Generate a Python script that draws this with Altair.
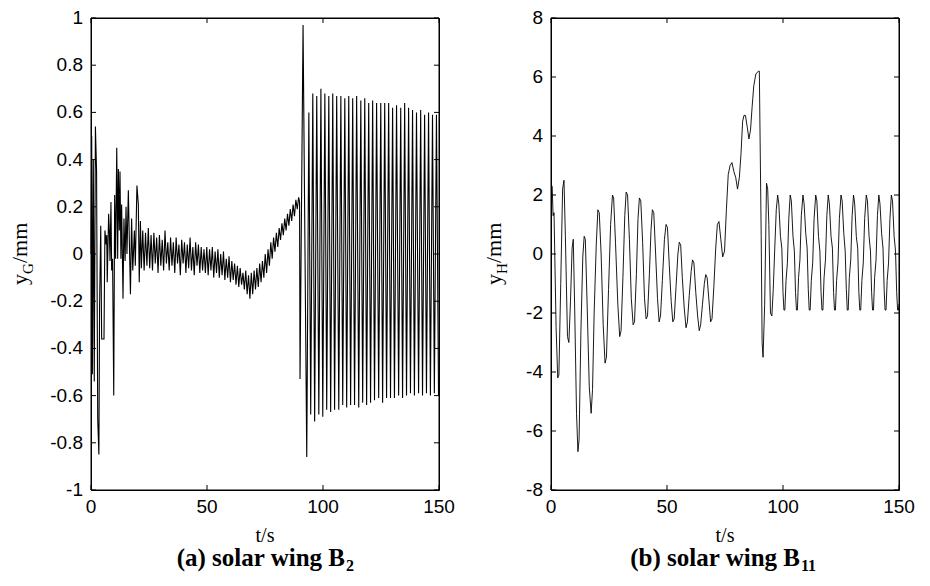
import altair as alt
import pandas as pd

# ---------------- left panel (a): y_G in mm ----------------
# irregular start-up part (t in s, y in mm)
tG_start = [0.0, 0.3, 0.6, 1.0, 1.4, 1.9, 2.4, 2.9, 3.4, 3.7, 4.2, 4.6, 5.6, 6.0, 6.5, 6.8, 7.0, 7.6, 7.9, 8.2,
            8.6, 8.9, 9.3, 9.8, 10.2, 10.6, 11.1, 11.5, 11.8, 12.2, 12.5, 12.9, 13.2, 13.8, 14.2, 14.7, 15.1, 15.5,
            16.1, 16.5, 17.0, 17.5, 18.0, 18.7, 19.1, 19.8, 20.4, 20.8, 21.3, 21.7]
yG_start = [0.0, 0.50, -0.51, 0.40, -0.54, 0.54, 0.35, -0.70, -0.85, -0.22, 0.12, -0.36, -0.36, 0.10, 0.04, 0.08,
            -0.12, 0.17, 0.10, -0.03, 0.22, -0.07, -0.02, -0.60, 0.25, -0.02, 0.45, -0.02, 0.36, 0.10, 0.35, -0.02,
            0.21, -0.19, 0.15, -0.03, 0.20, 0.00, 0.27, 0.07, -0.17, 0.15, -0.07, 0.10, -0.05, 0.29, 0.21, -0.12,
            0.14, -0.06]
# slow drift part with small ripple
tG_mid = [22.3, 22.9, 23.5, 24.1, 24.7, 25.3, 25.9, 26.5, 27.1, 27.7, 28.3, 28.9, 29.5, 30.1, 30.7, 31.3, 31.9,
          32.5, 33.1, 33.7, 34.3, 34.9, 35.5, 36.1, 36.7, 37.3, 37.9, 38.5, 39.1, 39.7, 40.3, 40.9, 41.5, 42.1,
          42.7, 43.3, 43.9, 44.5, 45.1, 45.7, 46.3, 46.9, 47.5, 48.1, 48.7, 49.3, 49.9, 50.5, 51.1, 51.7, 52.3,
          52.9, 53.5, 54.1, 54.7, 55.3, 55.9, 56.5, 57.1, 57.7, 58.3, 58.9, 59.5, 60.1, 60.7, 61.3, 61.9, 62.5,
          63.1, 63.7, 64.3, 64.9, 65.5, 66.1, 66.7, 67.3, 67.9, 68.5, 69.1, 69.7, 70.3, 70.9, 71.5, 72.1, 72.7,
          73.3, 73.9, 74.5, 75.1, 75.7, 76.3, 76.9, 77.5, 78.1, 78.7, 79.3, 79.9, 80.5, 81.1, 81.7, 82.3, 82.9,
          83.5, 84.1, 84.7, 85.3, 85.9, 86.5, 87.1, 87.7, 88.3, 88.9, 89.5, 89.9, 90.1, 91.4, 93.0]
yG_mid = [0.10, -0.07, 0.09, -0.05, 0.11, -0.06, 0.08, -0.07, 0.09, -0.04, 0.07, -0.08, 0.08, -0.05, 0.06, -0.07,
          0.10, -0.04, 0.05, -0.07, 0.07, -0.05, 0.05, -0.08, 0.07, -0.04, 0.04, -0.09, 0.06, -0.04, 0.05, -0.08,
          0.04, -0.06, 0.07, -0.07, 0.03, -0.09, 0.05, -0.05, 0.04, -0.08, 0.03, -0.07, 0.02, -0.08, 0.03, -0.09,
          0.02, -0.07, 0.03, -0.10, 0.01, -0.08, 0.02, -0.10, 0.00, -0.09, 0.01, -0.11, -0.02, -0.10, -0.01,
          -0.12, -0.03, -0.11, -0.04, -0.13, -0.05, -0.14, -0.06, -0.13, -0.08, -0.15, -0.07, -0.17, -0.09,
          -0.19, -0.08, -0.17, -0.07, -0.15, -0.06, -0.14, -0.04, -0.12, -0.03, -0.10, 0.00, -0.08, 0.02, -0.05,
          0.05, -0.02, 0.07, 0.01, 0.09, 0.03, 0.11, 0.06, 0.13, 0.08, 0.15, 0.10, 0.17, 0.12, 0.19, 0.14, 0.21,
          0.16, 0.23, 0.19, 0.24, 0.22, -0.53, 0.97, -0.86]
# large oscillation after ~92 s: peaks and troughs
tG_peaks = [93.9, 95.6, 97.3, 99.1, 100.8, 102.5, 104.2, 105.9, 107.7, 109.4, 111.1, 112.8, 114.5, 116.3, 118.0,
            119.7, 121.4, 123.1, 124.9, 126.6, 128.3, 130.0, 131.7, 133.5, 135.2, 136.9, 138.6, 140.3, 142.1,
            143.8, 145.5, 147.2, 148.9]
yG_peaks = [0.60, 0.68, 0.67, 0.70, 0.68, 0.67, 0.68, 0.67, 0.67, 0.66, 0.67, 0.66, 0.67, 0.65, 0.66, 0.64, 0.65,
            0.64, 0.64, 0.64, 0.64, 0.62, 0.63, 0.62, 0.64, 0.62, 0.61, 0.60, 0.61, 0.59, 0.60, 0.59, 0.59]
tG_troughs = [94.7, 96.4, 98.2, 99.9, 101.6, 103.3, 105.0, 106.8, 108.5, 110.2, 111.9, 113.6, 115.4, 117.1, 118.8,
              120.5, 122.2, 124.0, 125.7, 127.4, 129.1, 130.8, 132.6, 134.3, 136.0, 137.7, 139.4, 141.2, 142.9,
              144.6, 146.3, 148.0, 149.8]
yG_troughs = [-0.68, -0.71, -0.68, -0.69, -0.66, -0.67, -0.66, -0.66, -0.64, -0.65, -0.64, -0.64, -0.65, -0.63,
              -0.64, -0.63, -0.62, -0.61, -0.63, -0.61, -0.61, -0.61, -0.60, -0.61, -0.60, -0.59, -0.60, -0.59,
              -0.60, -0.59, -0.60, -0.59, -0.60]

# ---------------- right panel (b): y_H in mm ----------------
tH = [0.0, 0.5, 0.9, 1.3, 2.2, 2.9, 3.4, 4.2, 5.0, 5.6, 6.2, 7.1, 7.7, 8.4, 9.1, 9.6, 10.2, 11.0, 11.6, 12.1,
      12.9, 13.7, 14.3, 14.8, 15.6, 16.5, 17.3, 17.9, 18.6, 19.5, 20.2, 20.8, 21.6, 22.5, 23.3, 23.9, 24.8, 25.7,
      26.5, 27.0, 27.8, 28.8, 29.6, 30.2, 31.0, 31.8, 32.4, 33.0, 33.8, 34.6, 35.4, 36.0, 36.8, 37.5, 38.1, 38.7,
      39.5, 40.3, 41.0, 41.6, 42.4, 43.1, 43.7, 44.3, 45.1, 45.9, 46.6, 47.2, 48.0, 48.9, 49.6, 50.2, 51.0, 51.8,
      52.5, 53.1, 53.9, 54.7, 55.3, 55.9, 56.6, 57.4, 58.2, 58.8, 59.6, 60.4, 61.0, 61.6, 62.4, 63.2, 63.9, 64.5,
      65.3, 66.1, 66.7, 67.3, 68.1, 68.8, 69.4, 70.2, 71.0, 71.7, 72.4, 73.2, 74.0, 74.8, 75.6, 76.4, 77.2, 78.0,
      78.8, 79.6, 80.4, 81.2, 81.9, 82.6, 83.2, 83.8, 84.6, 85.3, 86.0, 86.7, 87.4, 88.3, 89.4, 89.8, 90.6, 91.0,
      91.4, 92.1, 92.9, 93.4, 93.9, 94.6, 95.2, 95.8, 96.5, 97.1, 97.7,
      98.2, 98.9, 99.5, 100.0, 100.4, 100.8, 101.3, 101.9, 102.5, 103.1,
      103.6, 104.3, 104.9, 105.4, 105.8, 106.2, 106.7, 107.3, 107.9, 108.6,
      109.1, 109.8, 110.4, 110.9, 111.3, 111.7, 112.2, 112.8, 113.4, 114.1,
      114.6, 115.3, 115.9, 116.4, 116.8, 117.2, 117.7, 118.3, 118.9, 119.5,
      120.0, 120.7, 121.3, 121.8, 122.2, 122.6, 123.1, 123.7, 124.3, 125.0,
      125.5, 126.2, 126.8, 127.3, 127.7, 128.1, 128.6, 129.2, 129.8, 130.4,
      130.9, 131.6, 132.2, 132.7, 133.1, 133.5, 134.0, 134.6, 135.2, 135.9,
      136.4, 137.1, 137.7, 138.2, 138.6, 139.0, 139.5, 140.1, 140.7, 141.3,
      141.8, 142.5, 143.1, 143.6, 144.0, 144.4, 144.9, 145.5, 146.1, 146.7,
      147.2, 147.9, 148.5, 149.0, 149.4, 149.8, 150.0]
yH = [2.3, 2.3, 1.3, 1.4, -2.5, -4.2, -4.1, -1.0, 2.2, 2.5, 0.6, -2.8, -3.0, -1.6, 0.2, 0.5, -1.8, -5.4, -6.7, -6.3,
      -2.6, -0.1, 0.6, 0.5, -1.8, -4.5, -5.4, -4.6, -2.0, 0.3, 1.5, 1.4, 0.0, -2.4, -3.7, -3.5, -1.2, 1.0,
      2.0, 1.9, 0.4, -1.7, -2.8, -2.6, -0.8, 1.3, 2.1, 2.0, 0.5, -1.5, -2.4, -2.3, -0.7, 1.2, 1.9, 1.8,
      0.4, -1.5, -2.2, -2.1, -0.7, 0.8, 1.5, 1.4, 0.0, -1.5, -2.3, -2.1, -0.9, 0.5, 1.0, 0.9, -0.4, -1.6,
      -2.3, -2.2, -1.1, 0.0, 0.4, 0.3, -0.8, -1.8, -2.5, -2.3, -1.4, -0.6, -0.2, -0.3, -1.3, -2.1, -2.6, -2.4,
      -1.7, -1.0, -0.7, -0.8, -1.6, -2.3, -2.2, -1.1, 0.2, 1.0, 1.1, 0.5, -0.1, 0.1, 1.5, 2.7, 3.0, 3.1,
      2.8, 2.6, 2.2, 2.6, 3.4, 4.5, 4.7, 4.7, 4.3, 3.9, 4.2, 5.0, 5.7, 6.1, 6.2, 6.2, 0.6, -3.0,
      -3.5, -1.7, 2.4, 2.2, 1.0, -2.0, -2.1, -1.2, 0.3, 1.5, 2.0,
      1.7, 0.6, 0.2, -1.3, -1.9, -1.9, -0.9, -0.3, 1.2, 2.0,
      1.8, 0.6, 0.1, -1.3, -1.9, -1.9, -0.8, -0.2, 1.3, 2.0,
      1.7, 0.7, 0.2, -1.2, -1.9, -1.9, -0.9, -0.3, 1.2, 2.0,
      1.8, 0.6, 0.1, -1.3, -1.9, -1.9, -0.8, -0.2, 1.3, 2.0,
      1.7, 0.6, 0.2, -1.3, -1.9, -1.9, -0.9, -0.3, 1.2, 2.0,
      1.8, 0.7, 0.1, -1.2, -1.9, -1.9, -0.8, -0.2, 1.3, 2.0,
      1.7, 0.6, 0.2, -1.3, -1.9, -1.9, -0.9, -0.3, 1.2, 2.0,
      1.8, 0.6, 0.1, -1.3, -1.9, -1.9, -0.8, -0.2, 1.3, 2.0,
      1.7, 0.7, 0.2, -1.2, -1.9, -1.9, -0.9, -0.3, 1.2, 2.0,
      1.8, 0.6, 0.1, -1.3, -1.9, -1.9, -1.7]

# tick values and their labels
x_ticks = [0, 50, 100, 150]
x_labels = ["0", "50", "100", "150"]
yG_ticks = [-1, -0.8, -0.6, -0.4, -0.2, 0, 0.2, 0.4, 0.6, 0.8, 1]
yG_labels = ["-1", "-0.8", "-0.6", "-0.4", "-0.2", "0", "0.2", "0.4", "0.6", "0.8", "1"]
yH_ticks = [-8, -6, -4, -2, 0, 2, 4, 6, 8]
yH_labels = ["-8", "-6", "-4", "-2", "0", "2", "4", "6", "8"]

W, H = 348, 472
TICK = 5  # px
SANS = "Liberation Sans"
SERIF = "Liberation Serif"
XMIN, XMAX = 0, 150

dfG = pd.DataFrame({
    "t": tG_start + tG_mid + tG_peaks + tG_troughs,
    "y": yG_start + yG_mid + yG_peaks + yG_troughs,
}).sort_values("t").reset_index(drop=True)
dfG["order"] = range(len(dfG))
dfH = pd.DataFrame({"t": tH, "y": yH})
dfH["order"] = range(len(dfH))

one = pd.DataFrame({"k": [0]})


def txt(text, x, y, size, font=SERIF, weight="normal", align="left", angle=0):
    return alt.Chart(one).mark_text(
        text=text, font=font, fontSize=size, fontWeight=weight, align=align,
        baseline="alphabetic", angle=angle, color="black"
    ).encode(x=alt.value(x), y=alt.value(y))


def build(df, ydom, yticks, ylabels, sub, cap_main, cap_sub, ytx, stroke_w, cap_end):
    xs = alt.Scale(domain=[XMIN, XMAX], nice=False, zero=False)
    ys = alt.Scale(domain=ydom, nice=False, zero=False)
    ymin, ymax = ydom
    line = alt.Chart(df).mark_line(color="black", strokeWidth=stroke_w).encode(
        x=alt.X("t:Q", scale=xs, axis=None),
        y=alt.Y("y:Q", scale=ys, axis=None),
        order="order:Q",
    )
    # frame drawn as a closed line through the four corners of the scale domain
    frame_df = pd.DataFrame({"x": [XMIN, XMAX, XMAX, XMIN, XMIN],
                             "y": [ymin, ymin, ymax, ymax, ymin],
                             "o": [0, 1, 2, 3, 4]})
    frame = alt.Chart(frame_df).mark_line(color="black", strokeWidth=1).encode(
        x=alt.X("x:Q", scale=xs, axis=None), y=alt.Y("y:Q", scale=ys, axis=None), order="o:Q")
    # inward tick segments (tick length TICK px converted into data units)
    tx = (XMAX - XMIN) * TICK / W
    ty = (ymax - ymin) * TICK / H
    rows = []
    k = 0
    for v in x_ticks:
        rows += [(v, ymin, k, 0), (v, ymin + ty, k, 1)]
        k += 1
        rows += [(v, ymax, k, 0), (v, ymax - ty, k, 1)]
        k += 1
    for v in yticks:
        rows += [(XMIN, v, k, 0), (XMIN + tx, v, k, 1)]
        k += 1
        rows += [(XMAX, v, k, 0), (XMAX - tx, v, k, 1)]
        k += 1
    ticks_df = pd.DataFrame(rows, columns=["x", "y", "id", "o"])
    ticks = alt.Chart(ticks_df).mark_line(color="black", strokeWidth=1).encode(
        x=alt.X("x:Q", scale=xs, axis=None), y=alt.Y("y:Q", scale=ys, axis=None),
        detail="id:N", order="o:Q")
    # tick labels
    xt_df = pd.DataFrame({"v": x_ticks, "lab": x_labels})
    yt_df = pd.DataFrame({"v": yticks, "lab": ylabels})
    xl = alt.Chart(xt_df).mark_text(font=SANS, fontSize=19, color="black", align="center",
                                    baseline="top").encode(
        x=alt.X("v:Q", scale=xs, axis=None), y=alt.value(H + 8), text="lab:N")
    yl = alt.Chart(yt_df).mark_text(font=SANS, fontSize=19, color="black", align="right",
                                    baseline="middle").encode(
        y=alt.Y("v:Q", scale=ys, axis=None), x=alt.value(-8), text="lab:N")
    # rotated y title: "y" + subscript + "/mm"
    yt1 = txt("y", ytx, 267, 22, angle=270)
    yt2 = txt(sub, ytx + 6, 256, 15, angle=270)
    yt3 = txt("/mm", ytx, 245, 22, angle=270)
    xt = txt("t/s", W / 2, 524, 20, align="center")
    c1 = txt(cap_main, cap_end, 548, 25, weight="bold", align="right")
    c2 = txt(cap_sub, cap_end + 1, 553, 16, weight="bold", align="left")
    return alt.layer(line, frame, ticks, xl, yl, yt1, yt2, yt3, xt, c1, c2).properties(
        width=W, height=H)


left = build(dfG, [-1, 1], yG_ticks, yG_labels, "G", "(a) solar wing B", "2", -64, 1.1, 254)
right = build(dfH, [-8, 8], yH_ticks, yH_labels, "H", "(b) solar wing B", "11", -50, 0.9, 249)

chart = alt.hconcat(left, right, spacing=26).configure_view(
    stroke="black", strokeWidth=1
).properties(padding={"left": 0, "top": 0, "right": 0, "bottom": 0}, background="white")

chart.save("out.html", embed_options={"renderer": "svg", "actions": False})
